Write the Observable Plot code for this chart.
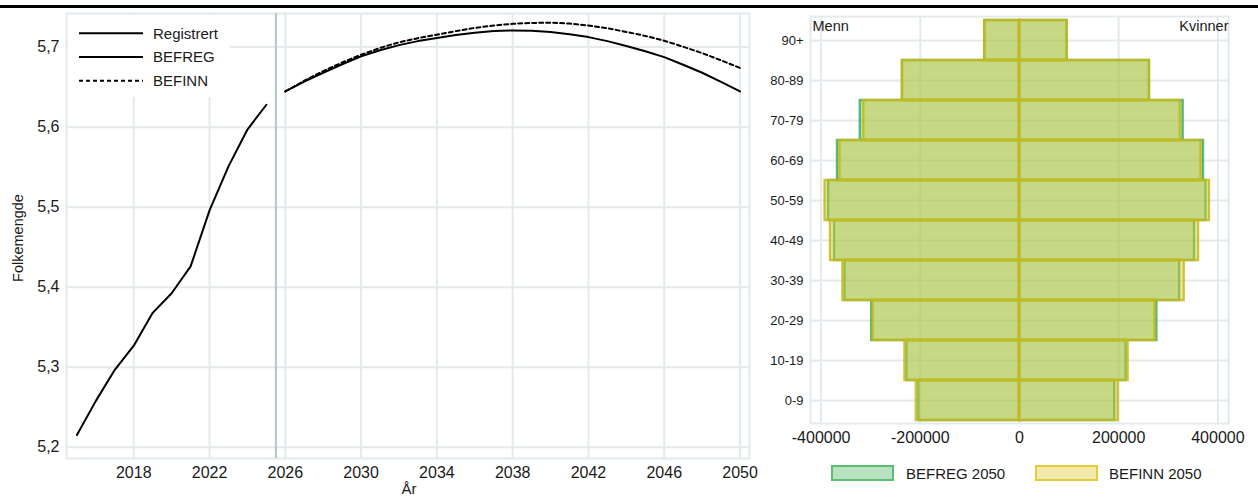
<!DOCTYPE html>
<html>
<head>
<meta charset="utf-8">
<script src="https://cdn.jsdelivr.net/npm/d3@7"></script>
<script src="https://cdn.jsdelivr.net/npm/@observablehq/plot@0.6"></script>
<style>
  html, body { margin: 0; padding: 0; background: #fff; }
  #root { position: relative; width: 1258px; height: 501px; overflow: hidden; font-family: "Liberation Sans", Arial, sans-serif; color: #1a1a1a; }
  .abs { position: absolute; }
  .topbar { left: 0; top: 5px; width: 1258px; height: 3px; background: #000; }
</style>
</head>
<body>
<div id="root">
  <div class="abs topbar"></div>
</div>
<script>
// ---------- Data: left chart (population, millions) ----------
const regYears = [2015, 2016, 2017, 2018, 2019, 2020, 2021, 2022, 2023, 2024, 2025];
const regValues = [5.2155, 5.258, 5.2968, 5.327, 5.368, 5.3925, 5.426, 5.496, 5.551, 5.597, 5.628];

const projYears = [2026, 2027, 2028, 2029, 2030, 2031, 2032, 2033, 2034, 2035, 2036, 2037, 2038,
                   2039, 2040, 2041, 2042, 2043, 2044, 2045, 2046, 2047, 2048, 2049, 2050];
const befregValues = [5.6446, 5.6570, 5.6680, 5.6786, 5.6884, 5.6960, 5.7025, 5.7075, 5.7113, 5.7150,
                      5.7180, 5.7200, 5.7209, 5.7205, 5.7190, 5.7162, 5.7125, 5.7075, 5.7015, 5.6948,
                      5.6875, 5.6780, 5.6680, 5.6565, 5.6446];
const befinnValues = [5.6446, 5.6580, 5.6700, 5.6808, 5.6905, 5.6990, 5.7060, 5.7112, 5.7155, 5.7200,
                      5.7240, 5.7270, 5.7292, 5.7302, 5.7305, 5.7295, 5.7270, 5.7235, 5.7190, 5.7140,
                      5.7080, 5.7005, 5.6925, 5.6835, 5.6740];

const lineXTicks = [2018, 2022, 2026, 2030, 2034, 2038, 2042, 2046, 2050];
const lineYTicks = [5.2, 5.3, 5.4, 5.5, 5.6, 5.7];
const splitYear = 2025.5;

// ---------- Data: right chart (population pyramid 2050) ----------
const ages = ["90+", "80-89", "70-79", "60-69", "50-59", "40-49", "30-39", "20-29", "10-19", "0-9"];
const befregMenn    = [70000, 236000, 321000, 367000, 385000, 373000, 352000, 298000, 227000, 203000];
const befregKvinner = [96000, 262000, 330000, 371000, 376000, 353000, 323000, 277000, 215000, 192000];
const befinnMenn    = [70000, 236000, 314000, 362000, 392000, 381000, 356000, 295000, 231000, 208000];
const befinnKvinner = [96000, 262000, 324000, 366000, 383000, 361000, 332000, 273000, 219000, 199000];
const pyrXTicks = [-400000, -200000, 0, 200000, 400000];

// ---------- Styles ----------
const FONT = '"Liberation Sans", Arial, sans-serif';
const GRID = "#e4eaea";
const GREEN = "#4eb762", GREEN_STROKE = "#45ad5a";
const YELLOW = "#deca2a", YELLOW_STROKE = "#c6b81a";

const root = document.getElementById("root");

// ---------- Left chart ----------
const reg = regYears.map((y, i) => ({year: y, value: regValues[i]}));
const befreg = projYears.map((y, i) => ({year: y, value: befregValues[i]}));
const befinn = projYears.map((y, i) => ({year: y, value: befinnValues[i]}));

const left = Plot.plot({
  width: 760, height: 501,
  marginLeft: 66, marginRight: 11, marginTop: 13, marginBottom: 43,
  style: {fontFamily: FONT, fontSize: "16px", color: "#1a1a1a", background: "transparent"},
  x: {domain: [2014.45, 2050.5], ticks: lineXTicks, tickFormat: d => String(d), tickSize: 0, tickPadding: 8, label: null},
  y: {domain: [5.186, 5.742], ticks: lineYTicks, tickFormat: d => d.toFixed(1).replace(".", ","), tickSize: 0, tickPadding: 7, label: null},
  marks: [
    Plot.gridX(lineXTicks, {stroke: GRID, strokeOpacity: 1, strokeWidth: 2}),
    Plot.gridY(lineYTicks, {stroke: GRID, strokeOpacity: 1, strokeWidth: 2}),
    Plot.frame({stroke: GRID, strokeWidth: 2}),
    Plot.ruleX([splitYear], {stroke: "#b2c5c7", strokeWidth: 2}),
    Plot.line(reg, {x: "year", y: "value", stroke: "#000", strokeWidth: 2}),
    Plot.line(befreg, {x: "year", y: "value", stroke: "#000", strokeWidth: 2}),
    Plot.line(befinn, {x: "year", y: "value", stroke: "#000", strokeWidth: 2, strokeDasharray: "4,3"})
  ]
});
left.style.position = "absolute";
left.style.left = "0px";
left.style.top = "0px";
root.appendChild(left);

// Legend inside the left panel
const legendNames = ["Registrert", "BEFREG", "BEFINN"];
const legendDash = [null, null, "4,3"];
const lg = document.createElement("div");
lg.className = "abs";
Object.assign(lg.style, {left: "68px", top: "15px", width: "162px", height: "82px", background: "#fff"});
let svgL = '<svg width="162" height="82" xmlns="http://www.w3.org/2000/svg">';
legendNames.forEach((n, i) => {
  const y = 18.3 + i * 23.7;
  svgL += `<line x1="11" x2="75" y1="${y}" y2="${y}" stroke="#000" stroke-width="2" ${legendDash[i] ? `stroke-dasharray="${legendDash[i]}"` : ""}/>`;
  svgL += `<text x="85" y="${y}" dy="0.35em" font-family='${FONT}' font-size="15" fill="#1a1a1a">${n}</text>`;
});
svgL += "</svg>";
lg.innerHTML = svgL;
root.appendChild(lg);

// Axis titles
const yTitle = document.createElement("div");
yTitle.className = "abs";
yTitle.textContent = "Folkemengde";
Object.assign(yTitle.style, {left: "18px", top: "238px", fontSize: "14.5px", transform: "translate(-50%, -50%) rotate(-90deg)", whiteSpace: "nowrap", lineHeight: "1"});
root.appendChild(yTitle);

const xTitle = document.createElement("div");
xTitle.className = "abs";
xTitle.textContent = "År";
Object.assign(xTitle.style, {left: "409px", top: "481px", fontSize: "15px", transform: "translateX(-50%)", lineHeight: "1"});
root.appendChild(xTitle);

// ---------- Right chart ----------
const regRows = ages.flatMap((a, i) => [
  {age: a, sex: "Menn", value: -befregMenn[i]},
  {age: a, sex: "Kvinner", value: befregKvinner[i]}
]);
const innRows = ages.flatMap((a, i) => [
  {age: a, sex: "Menn", value: -befinnMenn[i]},
  {age: a, sex: "Kvinner", value: befinnKvinner[i]}
]);

const right = Plot.plot({
  width: 498, height: 501,
  marginLeft: 50, marginRight: 30, marginTop: 16, marginBottom: 78,
  style: {fontFamily: FONT, fontSize: "16px", color: "#1a1a1a", background: "transparent"},
  x: {domain: [-421400, 421400], ticks: pyrXTicks, tickFormat: d => String(d), tickSize: 0, tickPadding: 8, label: null},
  y: {domain: ages, padding: 0, tickSize: 0, tickPadding: 7, label: null, fontSize: 13},
  marks: [
    Plot.gridX(pyrXTicks, {stroke: GRID, strokeOpacity: 1, strokeWidth: 2}),
    Plot.gridY({stroke: GRID, strokeOpacity: 1, strokeWidth: 2}),
    Plot.frame({stroke: GRID, strokeWidth: 2}),
    Plot.barX(regRows, {x1: 0, x2: "value", y: "age", fill: GREEN, fillOpacity: 0.4, stroke: GREEN_STROKE, strokeOpacity: 0.85, strokeWidth: 2.4}),
    Plot.barX(innRows, {x1: 0, x2: "value", y: "age", fill: YELLOW, fillOpacity: 0.4, stroke: YELLOW_STROKE, strokeOpacity: 0.85, strokeWidth: 2.4}),
    Plot.text(["Menn"], {frameAnchor: "top-left", text: d => d, dx: 2, dy: 4, lineAnchor: "top", textAnchor: "start", fontSize: 14.5, fill: "#1a1a1a"}),
    Plot.text(["Kvinner"], {frameAnchor: "top-right", text: d => d, dx: 0, dy: 4, lineAnchor: "top", textAnchor: "end", fontSize: 14.5, fill: "#1a1a1a"})
  ]
});
right.style.position = "absolute";
right.style.left = "760px";
right.style.top = "0px";
root.appendChild(right);
// y tick label size on the pyramid
right.querySelectorAll('[aria-label="y-axis tick label"] text').forEach(t => t.setAttribute("font-size", "13"));
const yAxisG = right.querySelector('[aria-label="y-axis tick label"]');
if (yAxisG) yAxisG.setAttribute("font-size", "13");

// Bottom legend for pyramid
const legendItems = [
  {name: "BEFREG 2050", fill: GREEN, stroke: "#5cbc72", left: 831, textLeft: 906},
  {name: "BEFINN 2050", fill: YELLOW, stroke: "#e2cb3c", left: 1035, textLeft: 1109}
];
legendItems.forEach(it => {
  const sw = document.createElement("div");
  sw.className = "abs";
  const c = d3.color(it.fill); c.opacity = 0.4;
  Object.assign(sw.style, {left: it.left + "px", top: "465px", width: "63px", height: "16px", boxSizing: "border-box", background: c.formatRgb(), border: "2px solid " + it.stroke});
  root.appendChild(sw);
  const tx = document.createElement("div");
  tx.className = "abs";
  tx.textContent = it.name;
  Object.assign(tx.style, {left: it.textLeft + "px", top: "473px", transform: "translateY(-50%)", fontSize: "15px", lineHeight: "1", whiteSpace: "nowrap"});
  root.appendChild(tx);
});
</script>
</body>
</html>
